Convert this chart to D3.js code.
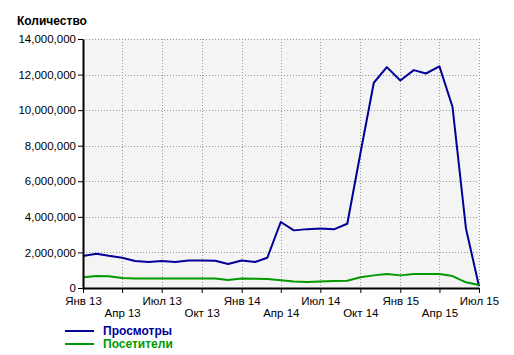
<!DOCTYPE html>
<html>
<head>
<meta charset="utf-8">
<script src="https://cdn.jsdelivr.net/npm/d3@7"></script>
<style>
  body { margin: 0; background: #fff; }
  text { font-family: "Liberation Sans", Arial, sans-serif; }
</style>
</head>
<body>
<svg id="chart" width="514" height="355"></svg>
<script>
// monthly values, Jan 2013 .. Jul 2015
var months = d3.range(31).map(function(i) { return new Date(2013, i, 1); });
var views = [1800000, 1930000, 1810000, 1700000, 1520000, 1460000, 1520000, 1460000,
             1550000, 1550000, 1530000, 1350000, 1550000, 1460000, 1700000, 3710000,
             3240000, 3310000, 3350000, 3300000, 3610000, 7550000, 11540000, 12420000,
             11670000, 12250000, 12060000, 12460000, 10190000, 3350000, 100000];
var visitors = [600000, 670000, 660000, 560000, 540000, 530000, 530000, 530000,
                530000, 530000, 530000, 450000, 530000, 520000, 500000, 430000,
                370000, 340000, 360000, 390000, 410000, 600000, 710000, 790000,
                710000, 790000, 790000, 790000, 670000, 320000, 170000];
var quarterLabels = ["Янв 13", "Апр 13", "Июл 13", "Окт 13", "Янв 14", "Апр 14",
                     "Июл 14", "Окт 14", "Янв 15", "Апр 15", "Июл 15"];
var yTicks = [0, 2000000, 4000000, 6000000, 8000000, 10000000, 12000000, 14000000];
var seriesNames = ["Просмотры", "Посетители"];
var seriesColors = ["#000099", "#009900"];

const plotLeft = 83, plotRight = 479, plotTop = 39, plotBottom = 288;

var svg = d3.select("#chart");

var x = d3.scaleTime()
    .domain([months[0], months[months.length - 1]])
    .range([plotLeft, plotRight]);

var y = d3.scaleLinear()
    .domain([0, 14000000])
    .range([plotBottom, plotTop]);

var quarters = d3.range(0, 31, 3).map(function(i) { return months[i]; });

svg.append("rect")
    .attr("x", plotLeft)
    .attr("y", plotTop)
    .attr("width", plotRight - plotLeft)
    .attr("height", plotBottom - plotTop)
    .attr("fill", "#f4f4f4");

// grid
svg.append("g")
    .selectAll("line")
    .data(yTicks.slice(1))
    .enter()
  .append("line")
    .attr("x1", plotLeft)
    .attr("x2", plotRight)
    .attr("y1", function(d) { return Math.round(y(d)) + 0.5; })
    .attr("y2", function(d) { return Math.round(y(d)) + 0.5; })
    .attr("stroke", "#999")
    .attr("stroke-dasharray", "1,2");

svg.append("g")
    .selectAll("line")
    .data(quarters.slice(1))
    .enter()
  .append("line")
    .attr("x1", function(d) { return Math.round(x(d)) + 0.5; })
    .attr("x2", function(d) { return Math.round(x(d)) + 0.5; })
    .attr("y1", plotTop)
    .attr("y2", plotBottom)
    .attr("stroke", "#999")
    .attr("stroke-dasharray", "1,2");

// lines
var line = d3.line()
    .x(function(d, i) { return x(months[i]); })
    .y(function(d) { return y(d); });

[views, visitors].forEach(function(s, k) {
    svg.append("path")
        .datum(s)
        .attr("fill", "none")
        .attr("stroke", seriesColors[k])
        .attr("stroke-width", 2)
        .attr("stroke-linejoin", "round")
        .attr("d", line);
});

// y axis
var yAxis = svg.append("g")
    .attr("transform", "translate(" + plotLeft + ",0)")
    .call(d3.axisLeft(y).tickValues(yTicks).tickFormat(d3.format(",")).tickSize(5).tickPadding(2).tickSizeOuter(0));
yAxis.select(".domain").attr("stroke", "#000").attr("stroke-width", 2);
yAxis.selectAll("text").attr("font-size", "11.5px").attr("fill", "#000")
    .attr("font-family", "Liberation Sans, Arial, sans-serif");

// x axis, labels staggered on two rows
var xAxis = svg.append("g")
    .attr("transform", "translate(0," + plotBottom + ")")
    .call(d3.axisBottom(x).tickValues(quarters).tickFormat(function(d, i) { return quarterLabels[i]; }).tickSize(5).tickSizeOuter(0));
xAxis.select(".domain").attr("stroke", "#000").attr("stroke-width", 2);
xAxis.selectAll("text")
    .attr("font-size", "11.5px")
    .attr("fill", "#000")
    .attr("font-family", "Liberation Sans, Arial, sans-serif")
    .attr("dy", function(d, i) { return i % 2 ? "1.83em" : "0.8em"; })
    .attr("y", 8);

svg.append("text")
    .attr("x", 17)
    .attr("y", 25)
    .attr("font-size", "12px")
    .attr("font-weight", "bold")
    .text("Количество");

// legend
var legend = svg.append("g")
    .selectAll("g")
    .data(seriesNames)
    .enter()
  .append("g")
    .attr("transform", function(d, i) { return "translate(65," + (331 + i * 13) + ")"; });

legend.append("line")
    .attr("x1", 0)
    .attr("x2", 29)
    .attr("stroke", function(d, i) { return seriesColors[i]; })
    .attr("stroke-width", 2);

legend.append("text")
    .attr("x", 38)
    .attr("y", 4)
    .attr("font-size", "12px")
    .attr("font-weight", "bold")
    .attr("fill", function(d, i) { return seriesColors[i]; })
    .text(function(d) { return d; });
</script>
</body>
</html>
